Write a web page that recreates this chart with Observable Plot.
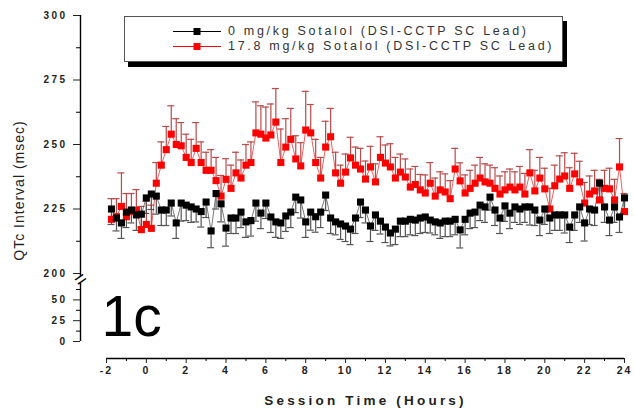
<!DOCTYPE html>
<html><head><meta charset="utf-8">
<script src="https://cdn.jsdelivr.net/npm/d3@7"></script>
<script src="https://cdn.jsdelivr.net/npm/@observablehq/plot@0.6"></script>
<style>
html,body{margin:0;padding:0;background:#fff;}
#wrap{position:relative;width:634px;height:408px;font-family:"Liberation Sans",Arial,sans-serif;}
#wrap svg{display:block;}
g[aria-label="y-axis tick label"] text{letter-spacing:2.4px;}
g[aria-label="x-axis tick label"] text{letter-spacing:2px;}
.legend{position:absolute;left:124px;top:16px;width:437px;height:44px;border:1px solid #555;background:#fff;box-shadow:4px 5px 0 #000;}
.row{position:absolute;left:0;height:14px;width:437px;}
.row svg{position:absolute;left:47px;top:0;}
.row span{position:absolute;left:103px;top:0;line-height:14px;font-size:12.5px;letter-spacing:2.7px;color:#333;white-space:nowrap;}
</style></head>
<body>
<div id="wrap"></div>
<script>
const hours = [
-1.75,-1.5,-1.25,
-1,-0.75,-0.5,-0.25,
0,0.25,0.5,0.75,
1,1.25,1.5,1.75,
2,2.25,2.5,2.75,
3,3.25,3.5,3.75,
4,4.25,4.5,4.75,
5,5.25,5.5,5.75,
6,6.25,6.5,6.75,
7,7.25,7.5,7.75,
8,8.25,8.5,8.75,
9,9.25,9.5,9.75,
10,10.25,10.5,10.75,
11,11.25,11.5,11.75,
12,12.25,12.5,12.75,
13,13.25,13.5,13.75,
14,14.25,14.5,14.75,
15,15.25,15.5,15.75,
16,16.25,16.5,16.75,
17,17.25,17.5,17.75,
18,18.25,18.5,18.75,
19,19.25,19.5,19.75,
20,20.25,20.5,20.75,
21,21.25,21.5,21.75,
22,22.25,22.5,22.75,
23,23.25,23.5,23.75,
24];
const sotalol178 = [
221,222,226,
222,224,224.5,217,
219,217.5,235,242,
248,254,250,249.5,
245,243,248.5,243,
240,240,236,230,
236.5,233,239,237,
242,243,254.5,254,
252.5,253.7,258.7,243,
249,252,244.4,241.7,
255.6,254.5,243,237,
249,253,239,235,
239.3,244.8,242,240.5,
236.6,241.3,235.5,245,
242.8,241.3,237,239.3,
237.4,233.5,234.5,232.4,
231.2,235,230,232.4,
231.6,229,240.5,235.9,
231.2,233,235,237,
235.5,235,233,230.8,
232.4,233.5,232.4,233.5,
230.8,239,232,237,
232.8,225,234,236.6,
237.8,233,238.6,235.5,
227.3,230.8,232,228.5,
233,232.8,228.5,241.3,
224];
const sotalol178Err = [
8,7,13,
9,7,8,9,
9,9,8,9,
9,11,10,9,
9,9,10,8,
7,8,9,8,
8,9,8,7,
8,8,12,11,
12,12,13,13,
11,12,9,9,
15,11,9,8,
10,11,8,7,
7,8,7,8,
7,8,7,8,
7,9,8,7,
7,7,7,6,
7,8,7,7,
7,7,8,7,
7,7,7,8,
7,7,8,7,
7,7,7,8,
8,9,8,8,
8,8,8,9,
9,8,8,8,
8,7,8,8,
7,8,8,11,
7];
const sotalol0 = [
225,221.5,219.6,
223.8,224.6,222.7,223,
229.3,230.8,230,224.6,
224.6,227.3,219.6,227.3,
226.5,225.8,225,224,
227.7,216.5,231,227,
217.6,221.5,221.5,223.8,
220,220.5,227.3,223.4,
227.3,221.9,220,219.6,
222.3,223.8,229.6,228.5,
220,223.8,222,223.8,
230.4,221.5,220,219.2,
218.4,217.2,221.5,227.7,
224.6,218.4,222.7,220.3,
218,215.7,217.2,220.3,
220.3,221,220.7,221.5,
221.9,220.7,220,219.6,
220.3,220.3,221,216.9,
221,223.4,223.8,226.5,
225.8,229.6,224.6,221.5,
226.2,223.4,225.8,225,
225.8,225.8,224.6,220.7,
225,221.5,222.7,222.7,
222.7,218,222.7,225.8,
219.6,225,224.6,235,
225.8,220.7,225.8,221.9,
229.3];
const sotalol0Err = [
6,5,6,
6,5,6,5,
6,6,7,6,
6,5,6,7,
6,6,5,6,
6,6.5,6,7,
7,6,6,6,
6,6,7,6,
6,6,6,6,
6,6,6,7,
6,7,6,6,
6,6,5,6,
6,6,6,6,
5,6,6,5,
6,5,6,6,
6,6,6,6,
6,5,5,6,
6,6,6,7,
6,6,6,6,
6,5,6,6,
6,6,6,6,
6,7,6,6,
6,6,6,6,
7,6,6,6,
7,6,6,6,
6,6,6,6,
6];
const xTicks = [-2,0,2,4,6,8,10,12,14,16,18,20,22,24];
const xMinor = [-1,1,3,5,7,9,11,13,15,17,19,21,23];
const yTicks = [0,25,50,200,225,250,275,300];
const yMinor = [12.5,37.5,62.5,212.5,237.5,262.5,287.5];
const seriesNames = ["0 mg/kg Sotalol (DSI-CCTP SC Lead)","17.8 mg/kg Sotalol (DSI-CCTP SC Lead)"];
const xTitle = "Session Time (Hours)";
const yTitle = "QTc Interval (msec)";
const panelLabel = "1c";

const rows = hours.map((t,i)=>({t, b: sotalol0[i], be: sotalol0Err[i], r: sotalol178[i], re: sotalol178Err[i]}));
// broken axis: compress the empty 62.5..200 band
const brk = v => v <= 62.5 ? v * 0.832 : v <= 200 ? 52 + (v - 62.5) * (16 / 137.5) : 68 + (v - 200) * 2.58;
// axis marks are not passed through the scale transform, so give them transformed positions
const yTickLabel = new Map(yTicks.map(v => [brk(v), String(v)]));
const axisSegs = [{from:0,to:115},{from:175,to:300}];
const redLine = "#e23a3a", redBar = "#b94a4a", blkLine = "#555", blkBar = "#555";

const chart = Plot.plot({
  width: 634, height: 408,
  marginLeft: 80, marginRight: 10, marginTop: 15, marginBottom: 50,
  style: {fontFamily: "'Liberation Sans', Arial, sans-serif", background: "#fff", overflow: "visible"},
  x: {domain: [-2, 24], range: [106, 624], label: null},
  y: {transform: brk, domain: [brk(0), brk(300)], range: [341, 15], label: null},
  marks: [
    Plot.ruleX(axisSegs, {x: () => xTicks[0], dx: -26, y1: "from", y2: "to", stroke: "#000", strokeWidth: 1.4}),
    Plot.text(["="], {x: () => xTicks[0], y: () => 150, dx: -26, text: d => d, rotate: -35, fontSize: 20, fill: "#000"}),
    Plot.axisY({ticks: yTicks.map(brk), anchor: "left", tickSize: 7, tickPadding: 6, fontSize: 10, fontWeight: "bold", color: "#222", tickFormat: v => yTickLabel.get(v), label: null}),
    Plot.axisY({ticks: yMinor.map(brk), anchor: "left", tickSize: 4, tickFormat: () => "", label: null}),
    Plot.ruleY([0], {x1: xTicks[0], x2: xTicks[xTicks.length-1], dy: 17, stroke: "#000", strokeWidth: 1.4}),
    Plot.axisX({ticks: xTicks, anchor: "bottom", tickSize: 5, tickPadding: 3, fontSize: 10.5, fontWeight: "bold", color: "#222", tickFormat: d => String(d), label: null}),
    Plot.axisX({ticks: xMinor, anchor: "bottom", tickSize: 3, tickFormat: () => "", label: null}),
    // red series
    Plot.line(rows, {x: "t", y: "r", stroke: redLine, strokeWidth: 0.8}),
    Plot.ruleX(rows, {x: "t", y1: "r", y2: d => d.r + d.re, stroke: redBar, strokeWidth: 1.2}),
    Plot.ruleY(rows, {y: d => d.r + d.re, x1: "t", x2: "t", insetLeft: -3.5, insetRight: -3.5, stroke: redBar, strokeWidth: 1.2}),
    // black series
    Plot.line(rows, {x: "t", y: "b", stroke: blkLine, strokeWidth: 0.8}),
    Plot.ruleX(rows, {x: "t", y1: "b", y2: d => d.b - d.be, stroke: blkBar, strokeWidth: 1.2}),
    Plot.ruleY(rows, {y: d => d.b - d.be, x1: "t", x2: "t", insetLeft: -3.5, insetRight: -3.5, stroke: blkBar, strokeWidth: 1.2}),
    Plot.dot(rows, {x: "t", y: "r", symbol: "square", r: 4, fill: "#ff0000"}),
    Plot.dot(rows, {x: "t", y: "b", symbol: "square", r: 4, fill: "#000"}),
    // texts
    Plot.text([panelLabel], {x: () => xTicks[0], y: () => 0, text: d => d, textAnchor: "start", lineAnchor: "bottom", fontSize: 57, dx: -5, dy: -6, fill: "#000"}),
    Plot.text([xTitle], {x: () => (xTicks[0] + xTicks[xTicks.length-1]) / 2, frameAnchor: "bottom", text: d => d, lineAnchor: "bottom", dy: 46, fontSize: 13.5, fontWeight: "bold", fill: "#222"}),
    Plot.text([yTitle], {frameAnchor: "top-left", text: d => d, textAnchor: "middle", lineAnchor: "middle", dx: -61, dy: 175, rotate: -90, fontSize: 14, fill: "#222"})
  ]
});
d3.select(chart).selectAll("text").filter(function(){return this.textContent === xTitle;}).attr("letter-spacing", "3.2px");
d3.select(chart).selectAll("text").filter(function(){return this.textContent === yTitle;}).attr("letter-spacing", "1px");
const wrap = document.getElementById("wrap");
wrap.appendChild(chart);

const leg = document.createElement("div");
leg.className = "legend";
const legColors = [["#000","#000"],["#ff0000","#ff0000"]];
seriesNames.forEach((name, i) => {
  const row = document.createElement("div");
  row.className = "row";
  row.style.top = (7 + i*15) + "px";
  const ns = "http://www.w3.org/2000/svg";
  const s = document.createElementNS(ns, "svg");
  s.setAttribute("width", 50); s.setAttribute("height", 14);
  const ln = document.createElementNS(ns, "line");
  ln.setAttribute("x1", 1); ln.setAttribute("x2", 49); ln.setAttribute("y1", 7.5); ln.setAttribute("y2", 7.5);
  ln.setAttribute("stroke", legColors[i][0]); ln.setAttribute("stroke-width", 1);
  const sq = document.createElementNS(ns, "rect");
  sq.setAttribute("x", 21.5); sq.setAttribute("y", 4); sq.setAttribute("width", 7); sq.setAttribute("height", 7);
  sq.setAttribute("fill", legColors[i][1]);
  s.appendChild(ln); s.appendChild(sq);
  const sp = document.createElement("span");
  sp.textContent = name;
  row.appendChild(s); row.appendChild(sp);
  leg.appendChild(row);
});
wrap.appendChild(leg);
</script>
</body></html>
